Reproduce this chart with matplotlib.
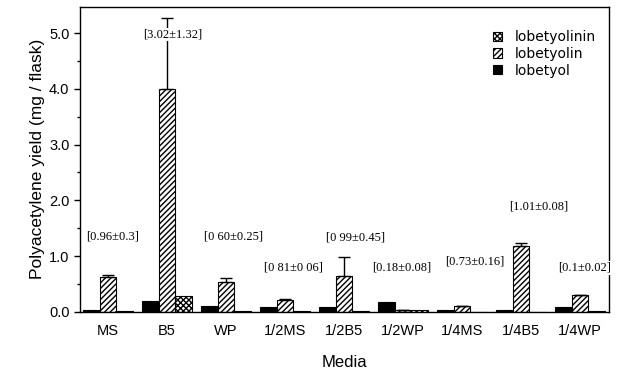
import numpy as np
import matplotlib
matplotlib.use("Agg")
import matplotlib.pyplot as plt
from matplotlib.ticker import MultipleLocator

media = ["MS", "B5", "WP", "1/2MS", "1/2B5", "1/2WP", "1/4MS", "1/4B5", "1/4WP"]
lobetyol = [0.03, 0.20, 0.10, 0.09, 0.09, 0.18, 0.03, 0.03, 0.08]
lobetyolin = [0.62, 4.00, 0.54, 0.21, 0.64, 0.03, 0.10, 1.18, 0.30]
lobetyolin_err = [0.04, 1.27, 0.07, 0.02, 0.34, 0.0, 0.01, 0.06, 0.0]
lobetyolinin = [0.02, 0.28, 0.02, 0.02, 0.02, 0.03, 0.0, 0.0, 0.01]

# bracket labels: (text, x offset from group, y)
notes = ["[0.96\u00b10.3]", "[3.02\u00b11.32]", "[0 60\u00b10.25]", "[0 81\u00b10 06]",
         "[0 99\u00b10.45]", "[0.18\u00b10.08]", "[0.73\u00b10.16]", "[1.01\u00b10.08]",
         "[0.1\u00b10.02]"]
note_dx = [0.08, 0.10, 0.12, 0.14, 0.19, -0.02, 0.22, 0.30, 0.07]
note_y = [1.36, 4.97, 1.36, 0.80, 1.34, 0.79, 0.91, 1.89, 0.79]

plt.rcParams['font.family'] = ['Liberation Sans', 'DejaVu Sans']

fig = plt.figure(figsize=(6.19, 3.79), dpi=100)
ax = fig.add_axes([0.129, 0.177, 0.855, 0.805])

x = np.arange(len(media))
w = 0.28

b1 = ax.bar(x - w, lobetyol, w, color="black", edgecolor="black", linewidth=0.8, label="lobetyol")
b2 = ax.bar(x, lobetyolin, w, color="white", edgecolor="black", hatch="//////", linewidth=0.8,
            label="lobetyolin")
b3 = ax.bar(x + w, lobetyolinin, w, color="white", edgecolor="black", hatch="xxxxxx", linewidth=0.8,
            label="lobetyolinin")
ax.errorbar(x, lobetyolin, yerr=[np.zeros(len(x)), lobetyolin_err], fmt="none",
            ecolor="black", elinewidth=1, capsize=4, capthick=1)

for i, t in enumerate(notes):
    ax.text(x[i] + note_dx[i], note_y[i], t, ha="center", va="center", fontsize=9,
            family="Liberation Serif", zorder=5,
            bbox=dict(facecolor="white", edgecolor="none", pad=0.5))

ax.set_xlim(-0.48, 8.49)
ax.set_ylim(0, 5.47)
ax.yaxis.set_major_locator(MultipleLocator(1.0))
ax.yaxis.set_minor_locator(MultipleLocator(0.5))
ax.set_yticklabels([f"{v:.1f}" for v in ax.get_yticks()])
ax.set_xticks(x)
ax.set_xticklabels(media)
ax.tick_params(axis="x", length=0, pad=9, labelsize=10.5)
ax.tick_params(axis="y", which="major", length=4, width=1, labelsize=10.5)
ax.tick_params(axis="y", which="minor", length=2, width=1)
for s in ax.spines.values():
    s.set_linewidth(1)

ax.set_ylabel("Polyacetylene yield (mg / flask)", fontsize=12.5, labelpad=3)
ax.set_xlabel("Media", fontsize=12, labelpad=12)

ax.legend(handles=[b3, b2, b1], loc="upper left", bbox_to_anchor=(0.77, 0.942),
          borderaxespad=0, frameon=False, prop={"family": "DejaVu Sans", "size": 10},
          handlelength=0.65, handleheight=0.65, handletextpad=0.95, labelspacing=0.2)

fig.savefig("out.png", dpi=100)
